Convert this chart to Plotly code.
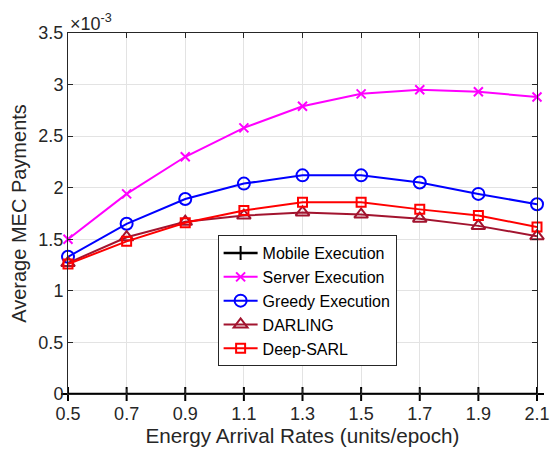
import plotly.graph_objects as go

x_vals = [0.5, 0.7, 0.9, 1.1, 1.3, 1.5, 1.7, 1.9, 2.1]
# values in units of 1e-3
mobile = [0, 0, 0, 0, 0, 0, 0, 0, 0]
server = [1.50, 1.94, 2.30, 2.58, 2.79, 2.91, 2.95, 2.93, 2.88]
greedy = [1.33, 1.65, 1.89, 2.04, 2.12, 2.12, 2.05, 1.94, 1.84]
darling = [1.27, 1.52, 1.67, 1.73, 1.76, 1.74, 1.70, 1.63, 1.53]
deep_sarl = [1.26, 1.48, 1.66, 1.78, 1.86, 1.86, 1.79, 1.73, 1.62]

x_ticks = [0.5, 0.7, 0.9, 1.1, 1.3, 1.5, 1.7, 1.9, 2.1]
y_ticks = [0, 0.5, 1, 1.5, 2, 2.5, 3, 3.5]

FONT = "Liberation Sans, Arial, sans-serif"

fig = go.Figure()
series = [
    ("Mobile Execution", mobile, "black", "cross-thin-open", 10, 2.5),
    ("Server Execution", server, "#FF00FF", "x-thin-open", 9, 2),
    ("Greedy Execution", greedy, "#0000FF", "circle-open", 12, 2),
    ("DARLING", darling, "#A2142F", "triangle-up-open", 12, 2),
    ("Deep-SARL", deep_sarl, "#FF0000", "square-open", 9, 2),
]
for name, ys, col, sym, size, lw in series:
    fig.add_trace(go.Scatter(
        x=x_vals, y=ys, name=name, mode="lines+markers",
        line=dict(color=col, width=lw),
        marker=dict(symbol=sym, size=size, color=col, line=dict(color=col, width=2)),
        cliponaxis=False,
    ))

axis_common = dict(
    showgrid=True, gridcolor="#E3E3E3", gridwidth=1,
    showline=True, linecolor="#262626", linewidth=1, mirror="ticks",
    ticks="inside", ticklen=5, tickcolor="#262626",
    tickfont=dict(family=FONT, size=18, color="#262626"),
    zeroline=False, automargin=False,
)

fig.update_layout(
    width=551, height=456,
    margin=dict(l=68, r=14, t=33, b=62),
    paper_bgcolor="white", plot_bgcolor="white",
    font=dict(family=FONT, color="#262626"),
    xaxis=dict(range=[0.5, 2.1], tickvals=x_ticks, ticktext=[f"{v:.1f}" for v in x_ticks],
               ticklabelstandoff=3,
               title=dict(text="Energy Arrival Rates (units/epoch)", font=dict(family=FONT, size=20.7, color="#262626"), standoff=4),
               **axis_common),
    yaxis=dict(range=[0, 3.5], tickvals=y_ticks, ticktext=[("%g" % v) for v in y_ticks],
               title=dict(text="Average MEC Payments", font=dict(family=FONT, size=20, color="#262626"), standoff=6),
               **axis_common),
    legend=dict(
        x=0.319, y=0.44, xanchor="left", yanchor="top",
        bgcolor="white", bordercolor="#262626", borderwidth=1,
        font=dict(family=FONT, size=16, color="black"),
        itemwidth=34, tracegroupgap=0,
    ),
    showlegend=True,
)

fig.add_annotation(
    xref="paper", yref="paper", x=0, y=1, xanchor="left", yanchor="bottom",
    text="\u00d710<sup>-3</sup>", showarrow=False,
    font=dict(family=FONT, size=18, color="#262626"), yshift=-3,
)

fig.write_html("out.html")
